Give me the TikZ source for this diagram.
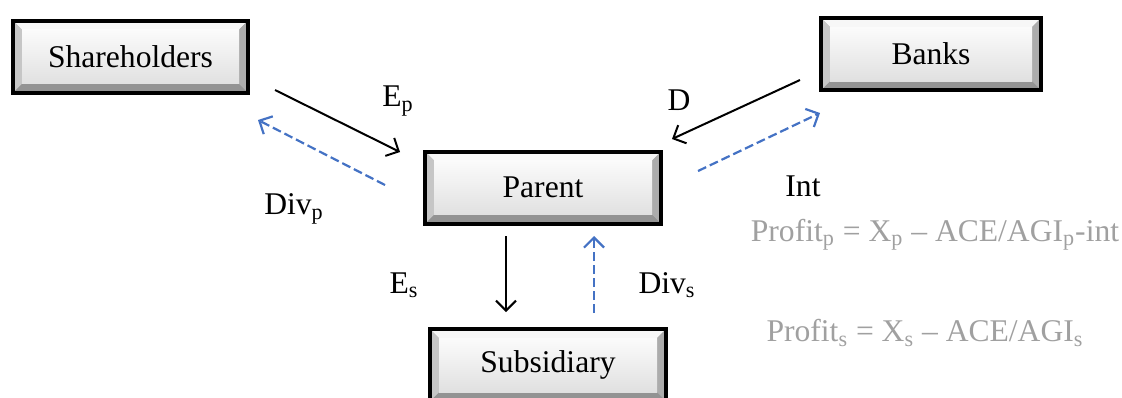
\documentclass[tikz,border=0pt]{standalone}
\usepackage{fontspec}
\setmainfont{Liberation Serif}
\usetikzlibrary{arrows.meta}
\definecolor{flowblue}{RGB}{68,114,196}
\definecolor{formgray}{RGB}{160,160,160}
\begin{document}
\begin{tikzpicture}[x=0.5pt,y=-0.5pt,
  txt/.style={font=\fontsize{15.8}{19}\selectfont},
  bevelbox/.style={txt, draw=black, line width=2pt, fill=gray!55, inner sep=0pt,
    path picture={
      \fill[gray!6] (path picture bounding box.north west) -- (path picture bounding box.north east)
        -- ([shift={(-4.5pt,-4.5pt)}]path picture bounding box.north east) -- ([shift={(4.5pt,-4.5pt)}]path picture bounding box.north west) -- cycle;
      \fill[gray!85] (path picture bounding box.south west) -- (path picture bounding box.south east)
        -- ([shift={(-4.5pt,4.5pt)}]path picture bounding box.south east) -- ([shift={(4.5pt,4.5pt)}]path picture bounding box.south west) -- cycle;
      \fill[gray!45] (path picture bounding box.north west) -- (path picture bounding box.south west)
        -- ([shift={(4.5pt,4.5pt)}]path picture bounding box.south west) -- ([shift={(4.5pt,-4.5pt)}]path picture bounding box.north west) -- cycle;
      \fill[gray!65] (path picture bounding box.north east) -- (path picture bounding box.south east)
        -- ([shift={(-4.5pt,4.5pt)}]path picture bounding box.south east) -- ([shift={(-4.5pt,-4.5pt)}]path picture bounding box.north east) -- cycle;
      \shade[top color=gray!3, bottom color=gray!24]
        ([shift={(4.5pt,-4.5pt)}]path picture bounding box.north west) rectangle ([shift={(-4.5pt,4.5pt)}]path picture bounding box.south east);
    }},
  solidflow/.style={line width=1pt, draw=black, -{Straight Barb[length=5pt,width=10pt,line width=1pt]}},
  dashflow/.style={line width=1.1pt, draw=flowblue, dash pattern=on 4.5pt off 2pt, -{Straight Barb[length=5pt,width=10pt,line width=1.1pt]}},
  lbl/.style={txt, inner sep=0pt},
  formula/.style={txt, inner sep=0pt, text=formgray}
]
\useasboundingbox (0,0) rectangle (1122,397);

\node[bevelbox, minimum width=117.5pt, minimum height=36pt] (sh) at (130.5,56.5) {Shareholders};
\node[bevelbox, minimum width=110pt, minimum height=36pt] (bk) at (931,54) {Banks};
\node[bevelbox, minimum width=118pt, minimum height=36pt] (pa) at (543,187.5) {Parent};
\node[bevelbox, minimum width=118pt, minimum height=36pt] (su) at (548,365) {Subsidiary};

\coordinate (epA) at (275,90);  \coordinate (epB) at (400,152);
\coordinate (dpA) at (385,185); \coordinate (dpB) at (258,120);
\coordinate (dA) at (800,80);   \coordinate (dB) at (672,139);
\coordinate (inA) at (698,171); \coordinate (inB) at (820,113);
\coordinate (esA) at (506,236); \coordinate (esB) at (506,312);
\coordinate (dsA) at (594,313); \coordinate (dsB) at (594,236);

\draw[solidflow] (epA) -- (epB);
\draw[dashflow] (dpA) -- (dpB);
\draw[solidflow] (dA) -- (dB);
\draw[dashflow] (inA) -- (inB);
\draw[solidflow] (esA) -- (esB);
\draw[dashflow] (dsA) -- (dsB);

\node[lbl] (lep) at (398,101) {E\textsubscript{p}};
\node[lbl] (ldp) at (294,209) {Div\textsubscript{p}};
\node[lbl] (ld) at (679,100) {D};
\node[lbl] (lin) at (803,186) {Int};
\node[lbl] (les) at (404,285) {E\textsubscript{s}};
\node[lbl] (lds) at (667,285) {Div\textsubscript{s}};

\node[formula] (fp) at (935,235) {Profit\textsubscript{p} = X\textsubscript{p} -- ACE/AGI\textsubscript{p}-int};
\node[formula] (fs) at (925,333) {Profit\textsubscript{s} = X\textsubscript{s} -- ACE/AGI\textsubscript{s}};
\end{tikzpicture}
\end{document}
